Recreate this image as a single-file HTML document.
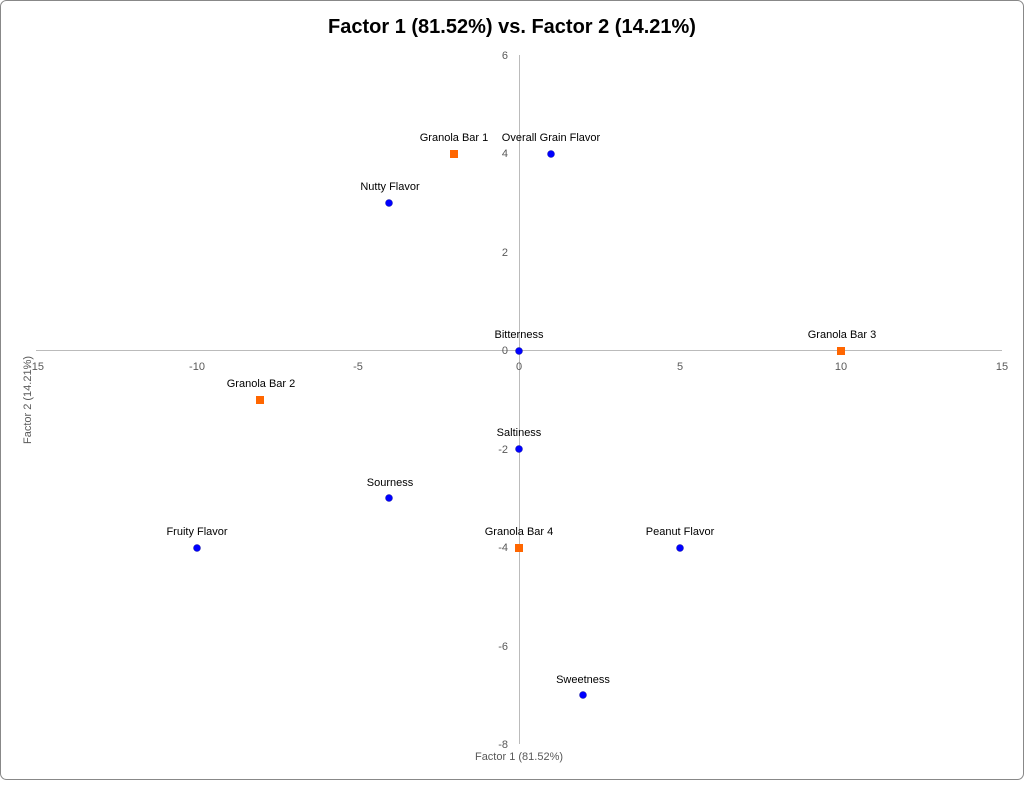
<!DOCTYPE html>
<html><head><meta charset="utf-8"><style>
body{margin:0;background:#fff}
</style></head><body>
<svg width="1024" height="780" xmlns="http://www.w3.org/2000/svg" font-family="Liberation Sans, sans-serif">
<rect x="0.5" y="0.5" width="1023" height="779" rx="6" fill="#fff" stroke="#888"/>
<text x="512" y="33" text-anchor="middle" font-size="20" font-weight="bold" fill="#000">Factor 1 (81.52%) vs. Factor 2 (14.21%)</text>
<line x1="36" y1="350.5" x2="1002" y2="350.5" stroke="#bbb"/>
<line x1="519.5" y1="55" x2="519.5" y2="744" stroke="#bbb"/>
<g font-size="11" fill="#595959" text-anchor="middle">
<text x="36" y="370">-15</text><text x="197" y="370">-10</text><text x="358" y="370">-5</text><text x="519" y="370">0</text><text x="680" y="370">5</text><text x="841" y="370">10</text><text x="1002" y="370">15</text>
</g>
<g font-size="11" fill="#595959" text-anchor="end">
<text x="508" y="59">6</text><text x="508" y="157">4</text><text x="508" y="256">2</text><text x="508" y="354">0</text><text x="508" y="453">-2</text><text x="508" y="551">-4</text><text x="508" y="650">-6</text><text x="508" y="748">-8</text>
</g>
<text x="519" y="760" text-anchor="middle" font-size="11" fill="#595959">Factor 1 (81.52%)</text>
<text transform="translate(31,400) rotate(-90)" text-anchor="middle" font-size="11" fill="#595959">Factor 2 (14.21%)</text>
<g fill="#0000ff" stroke="#1a1aa0" stroke-width="0.5">
<circle cx="551" cy="154" r="3.5"/><circle cx="389" cy="203" r="3.5"/><circle cx="519" cy="351" r="3.5"/><circle cx="519" cy="449" r="3.5"/><circle cx="389" cy="498" r="3.5"/><circle cx="197" cy="548" r="3.5"/><circle cx="680" cy="548" r="3.5"/><circle cx="583" cy="695" r="3.5"/>
</g>
<g fill="#ff6600">
<rect x="450" y="150" width="8" height="8"/><rect x="837" y="347" width="8" height="8"/><rect x="256" y="396" width="8" height="8"/><rect x="515" y="544" width="8" height="8"/>
</g>
<g font-size="11" fill="#000" text-anchor="middle">
<text x="454" y="141">Granola Bar 1</text>
<text x="551" y="141">Overall Grain Flavor</text>
<text x="390" y="190">Nutty  Flavor</text>
<text x="519" y="338">Bitterness</text>
<text x="842" y="338">Granola Bar 3</text>
<text x="261" y="387">Granola Bar 2</text>
<text x="519" y="436">Saltiness</text>
<text x="390" y="486">Sourness</text>
<text x="197" y="535">Fruity Flavor</text>
<text x="519" y="535">Granola Bar 4</text>
<text x="680" y="535">Peanut Flavor</text>
<text x="583" y="683">Sweetness</text>
</g>
</svg>
</body></html>
